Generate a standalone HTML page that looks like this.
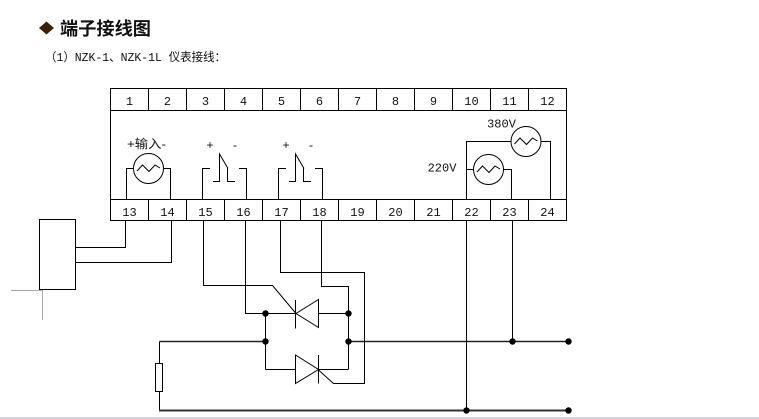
<!DOCTYPE html>
<html><head><meta charset="utf-8"><style>
html,body{margin:0;padding:0;background:#fff;}
svg{display:block;}
text{font-family:"Liberation Sans","Noto Sans CJK SC",sans-serif;fill:#111;}
.n{font-size:12px;text-anchor:middle;font-family:"Liberation Mono","Noto Sans CJK SC",monospace;}
</style></head><body>
<svg width="759" height="419" viewBox="0 0 759 419" xmlns="http://www.w3.org/2000/svg">
<rect width="759" height="419" fill="#fff"/>
<!-- title -->
<polygon points="46.5,21.5 54,28 46.5,34.5 39,28" fill="#3a1f00"/>
<text x="60" y="35" font-size="18" font-weight="bold" textLength="91" lengthAdjust="spacingAndGlyphs" style="font-family:'Noto Sans CJK SC',sans-serif">端子接线图</text>
<text x="45" y="61" font-size="12" textLength="181" lengthAdjust="spacingAndGlyphs" style="font-family:'Liberation Mono','Noto Sans CJK SC',monospace">（1）NZK-1、NZK-1L 仪表接线：</text>

<g stroke="#000" stroke-width="1" fill="none">
<!-- terminal box -->
<rect x="110.5" y="88.5" width="456" height="132"/>
<line x1="110" y1="110.5" x2="567" y2="110.5"/>
<line x1="110" y1="199.5" x2="567" y2="199.5"/>
<path d="M148.5 88V110M186.5 88V110M224.5 88V110M262.5 88V110M300.5 88V110M338.5 88V110M376.5 88V110M414.5 88V110M452.5 88V110M490.5 88V110M528.5 88V110"/>
<path d="M148.5 199V221M186.5 199V221M224.5 199V221M262.5 199V221M300.5 199V221M338.5 199V221M376.5 199V221M414.5 199V221M452.5 199V221M490.5 199V221M528.5 199V221"/>

<!-- sensor input -->
<circle cx="148.5" cy="168.5" r="15"/>
<polyline points="137,171 142.5,165 149,171.5 155,165 160,168"/>
<path d="M133.5 168.5H126.5V199M163.5 168.5H170.5V199"/>

<!-- relay 1 -->
<path d="M202.5 199V168.5H210M213 181.5H219.5V154L228 168.5M227.5 168V181.5H235M239 168.5H246.5V199"/>
<!-- relay 2 -->
<path d="M278.5 199V168.5H286M289 181.5H295.5V154L304 168.5M303.5 168V181.5H311M315 168.5H322.5V199"/>

<!-- power -->
<circle cx="526" cy="141.5" r="15"/>
<polyline points="514.5,144 520,138 526.5,144.5 532.5,138 537.5,141"/>
<circle cx="488.5" cy="169.5" r="15"/>
<polyline points="477,172 482.5,166 489,172.5 495,166 500,169"/>
<path d="M511 141.5H466.5V199M541 141.5H550.5V199"/>
<path d="M473.5 169.5H466.5M503.5 169.5H511.5V199"/>

<!-- external sensor -->
<path d="M125.5 221V247.5H76M171.5 221V262.5H76"/>
<rect x="39.5" y="219.5" width="36" height="70"/>

<!-- relay wiring -->
<path d="M203.5 221V285.5H272.5L296 313.5"/>
<path d="M245.5 221V313.5H265.5"/>
<path d="M280.5 221V272.5H364.5V383.5H333.5L318.5 370"/>
<path d="M321.5 221V286.5H348.5V313.5"/>

<!-- triac top -->
<path d="M265.5 313.5H296M318.5 313.5H348.5"/>
<polygon points="318.5,299.5 318.5,327.5 296,313.5"/>
<path d="M295.5 300V328.5"/>
<!-- sides -->
<path d="M265.5 313V369.5M348.5 313V369.5"/>
<!-- triac bottom -->
<path d="M265.5 369.5H295.5M318.5 369.5H348.5"/>
<polygon points="295.5,355 295.5,383.5 318.5,369.5"/>
<path d="M318.5 355V383.5"/>

<!-- load lines -->
<path d="M159.5 341.5H265.5M348.5 341.5H568.5" stroke-width="1.5" stroke="#222"/>
<path d="M159.5 341.5V363.5M159.5 391.5V410.5"/>
<rect x="155.5" y="363.5" width="7" height="28"/>
<path d="M159 410.5H568.5" stroke-width="2" stroke="#333"/>
<path d="M466.5 221V410.5M512.5 221V341.5"/>
</g>
<!-- gray marks -->
<path d="M11 290.5H42M42.5 290V320" stroke="#aaa" stroke-width="1" fill="none"/>
<line x1="0" y1="418" x2="759" y2="418" stroke="#c4c4cc" stroke-width="1.5"/>

<!-- dots -->
<g fill="#000">
<circle cx="265.5" cy="313.5" r="3.2"/>
<circle cx="348.5" cy="313.5" r="3.2"/>
<circle cx="265.5" cy="341.5" r="3.2"/>
<circle cx="348.5" cy="341.5" r="3.2"/>
<circle cx="512.5" cy="341.5" r="3.2"/>
<circle cx="568.5" cy="341.5" r="3.2"/>
<circle cx="466.5" cy="410.5" r="3.2"/>
<circle cx="568.5" cy="410.5" r="3.2"/>
</g>

<!-- terminal numbers -->
<g class="n">
<text class="n" x="129.5" y="105">1</text>
<text class="n" x="167.5" y="105">2</text>
<text class="n" x="205.5" y="105">3</text>
<text class="n" x="243.5" y="105">4</text>
<text class="n" x="281.5" y="105">5</text>
<text class="n" x="319.5" y="105">6</text>
<text class="n" x="357.5" y="105">7</text>
<text class="n" x="395.5" y="105">8</text>
<text class="n" x="433.5" y="105">9</text>
<text class="n" x="471.5" y="105">10</text>
<text class="n" x="509.5" y="105">11</text>
<text class="n" x="547.5" y="105">12</text>
<text class="n" x="129.5" y="216">13</text>
<text class="n" x="167.5" y="216">14</text>
<text class="n" x="205.5" y="216">15</text>
<text class="n" x="243.5" y="216">16</text>
<text class="n" x="281.5" y="216">17</text>
<text class="n" x="319.5" y="216">18</text>
<text class="n" x="357.5" y="216">19</text>
<text class="n" x="395.5" y="216">20</text>
<text class="n" x="433.5" y="216">21</text>
<text class="n" x="471.5" y="216">22</text>
<text class="n" x="509.5" y="216">23</text>
<text class="n" x="547.5" y="216">24</text>
</g>

<!-- labels -->
<text x="127" y="148" font-size="12" textLength="39" lengthAdjust="spacingAndGlyphs">+输入-</text>
<text x="210" y="149" font-size="12" text-anchor="middle">+</text>
<text x="235" y="149" font-size="12" text-anchor="middle">-</text>
<text x="286" y="149" font-size="12" text-anchor="middle">+</text>
<text x="311" y="149" font-size="12" text-anchor="middle">-</text>
<text x="501.5" y="127.5" font-size="12" text-anchor="middle" style="font-family:'Liberation Mono',monospace">380V</text>
<text x="442" y="171.5" font-size="12" text-anchor="middle" style="font-family:'Liberation Mono',monospace">220V</text>
</svg>
</body></html>
